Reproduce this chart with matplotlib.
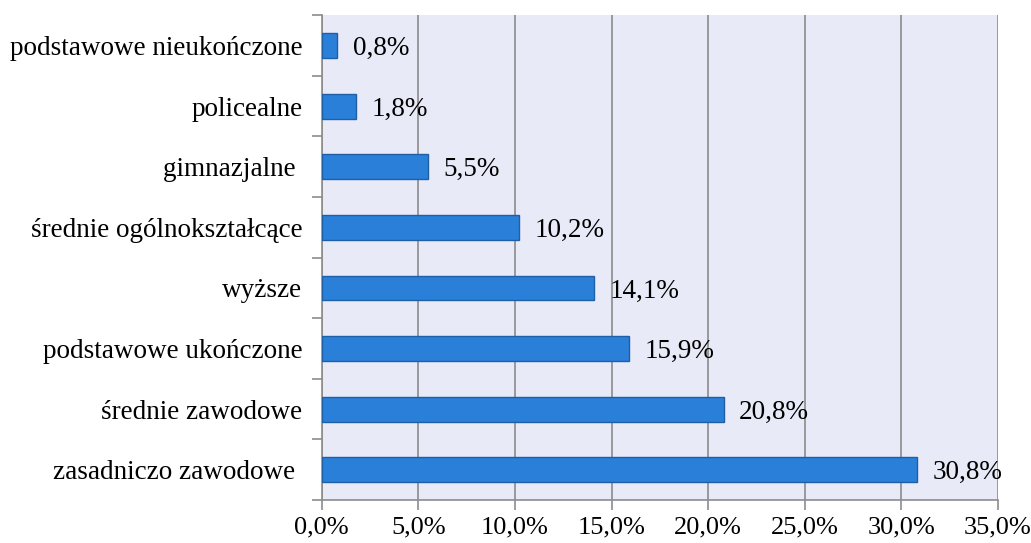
import numpy as np
import matplotlib.pyplot as plt
from matplotlib.ticker import FuncFormatter, MultipleLocator

categories = ["zasadniczo zawodowe ", "średnie zawodowe", "podstawowe ukończone", "wyższe",
              "średnie ogólnokształcące", "gimnazjalne ", "policealne", "podstawowe nieukończone"]
values = [30.8, 20.8, 15.9, 14.1, 10.2, 5.5, 1.8, 0.8]

plt.rcParams['font.family'] = ['Liberation Serif', 'DejaVu Serif']

fig = plt.figure(figsize=(10.31, 5.43), dpi=100)
ax = fig.add_axes([0.312, 0.079, 0.656, 0.893])
ax.set_facecolor('#E8EBF7')

y = np.arange(len(categories))
ax.barh(y, values, height=0.41, color='#2A7FD8', edgecolor='#1E5FA6', linewidth=1, zorder=3)

for yi, v in zip(y, values):
    ax.text(v + 0.8, yi - 0.05, f"{v:.1f}%".replace('.', ','), va='center', ha='left', fontsize=19.5, zorder=4)

ax.set_xlim(0, 35)
ax.set_ylim(-0.5, len(categories) - 0.5)
ax.xaxis.set_major_locator(MultipleLocator(5))
ax.xaxis.set_major_formatter(FuncFormatter(lambda x, p: f"{x:.1f}%".replace('.', ',')))
ax.grid(axis='x', color='#8C8C8C', linewidth=1.2, zorder=1)

ax.set_yticks(y)
ax.set_yticklabels(categories, fontsize=19.5)
ax.set_yticks(np.arange(-0.5, len(categories)), minor=True)
ax.tick_params(axis='y', which='major', length=0, pad=14)
ax.tick_params(axis='y', which='minor', length=7, color='#8C8C8C', width=1.2)
ax.tick_params(axis='x', length=7, color='#8C8C8C', width=1.2, labelsize=19, pad=5)

for s in ['top', 'right']:
    ax.spines[s].set_visible(False)
for s in ['left', 'bottom']:
    ax.spines[s].set_color('#8C8C8C')
    ax.spines[s].set_linewidth(1.2)

fig.savefig('out.png', dpi=100)
